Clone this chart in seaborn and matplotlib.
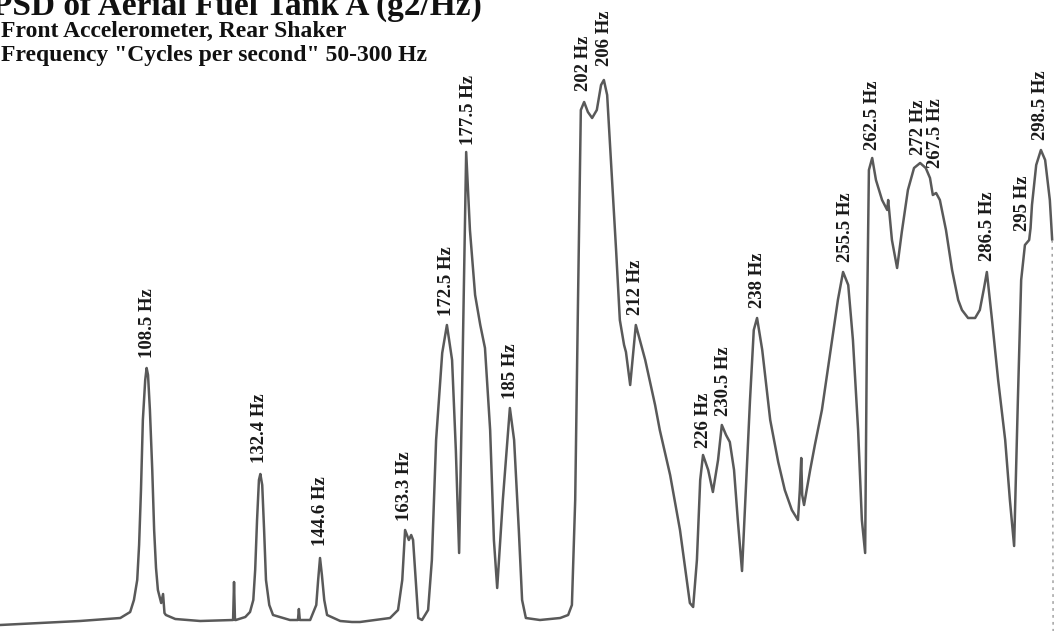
import numpy as np
import pandas as pd
import matplotlib
matplotlib.use('Agg')
import matplotlib.pyplot as plt
import seaborn as sns

freq = [77.2, 85.7, 94.2, 102.8, 104.9, 105.7, 106.4, 106.8, 107.2, 107.6,
        108.1, 108.4, 108.7, 109.1, 109.6, 110.0, 110.4, 110.8, 111.5, 111.9,
        112.2, 112.5, 114.5, 119.8, 126.2, 126.8, 127.0, 127.2, 127.4, 129.4,
        130.4, 131.1, 131.5, 131.9, 132.3, 132.6, 133.0, 133.4, 133.8, 134.5,
        135.3, 138.9, 140.6, 140.8, 141.0, 143.2, 144.5, 144.9, 145.3, 145.7,
        146.2, 146.8, 149.6, 152.1, 153.8, 157.0, 160.2, 161.9, 162.8, 163.4,
        163.8, 164.2, 164.7, 165.1, 166.2, 167.0, 168.3, 169.1, 170.0, 171.3,
        172.3, 173.4, 174.2, 174.9, 175.5, 176.4, 177.2, 178.3, 179.4, 180.4,
        181.5, 182.3, 183.0, 184.2, 185.7, 186.6, 187.6, 188.3, 189.1, 192.1,
        196.4, 198.1, 198.9, 199.6, 200.2, 200.8, 201.5, 202.3, 203.2, 204.2,
        205.1, 205.7, 206.4, 207.2, 208.3, 209.1, 210.0, 210.4, 211.3, 212.5,
        214.5, 216.6, 217.6, 219.8, 221.9, 223.2, 224.0, 224.7, 225.5, 226.2,
        226.8, 227.9, 228.9, 230.0, 230.8, 231.7, 232.5, 233.4, 234.2, 235.1,
        236.0, 236.8, 237.6, 238.3, 239.4, 241.1, 242.8, 244.2, 245.7, 247.0,
        247.4, 247.7, 247.9, 248.3, 249.6, 250.6, 252.1, 253.8, 255.5, 256.6,
        257.7, 258.7, 259.8, 260.6, 261.3, 261.7, 262.1, 262.8, 263.6, 264.9,
        266.0, 266.2, 266.5, 267.0, 268.1, 269.1, 270.4, 271.7, 273.0, 274.2,
        275.1, 275.7, 276.4, 277.2, 278.5, 279.8, 281.1, 281.9, 283.2, 284.7,
        285.7, 286.6, 287.2, 288.3, 289.6, 291.1, 292.1, 293.0, 293.8, 294.5,
        295.3, 296.2, 296.5, 296.8, 297.7, 298.7, 299.6, 300.6, 301.1]
psd = [6, 8, 10, 13, 19, 31, 51, 86, 141, 211,
       251, 263, 256, 221, 161, 101, 63, 41, 28, 37,
       18, 16, 12, 10, 11, 11, 49, 11, 11, 14,
       19, 31, 61, 111, 151, 157, 146, 101, 51, 26,
       16, 11, 11, 22, 11, 11, 26, 51, 73, 56,
       31, 16, 10, 9, 9, 11, 13, 21, 51, 101,
       96, 91, 96, 91, 13, 11, 21, 71, 191, 278,
       306, 271, 181, 78, 231, 479, 401, 336, 306, 283,
       201, 91, 43, 131, 223, 191, 101, 31, 13, 11,
       13, 16, 26, 131, 331, 521, 529, 519, 513, 521,
       546, 551, 536, 471, 381, 311, 286, 279, 246, 306,
       271, 226, 201, 156, 101, 56, 28, 24, 71, 151,
       176, 161, 139, 171, 206, 196, 189, 161, 111, 60,
       151, 231, 301, 313, 281, 211, 169, 141, 121, 111,
       141, 173, 136, 126, 161, 186, 221, 276, 331, 359,
       346, 291, 201, 111, 78, 311, 461, 473, 451, 431,
       421, 431, 416, 391, 363, 399, 441, 463, 468, 463,
       453, 436, 438, 431, 401, 361, 331, 321, 313, 313,
       321, 343, 359, 311, 251, 191, 131, 85, 231, 351,
       386, 391, 403, 426, 466, 481, 471, 431, 391]

# borda direita do registro (tracejado claro)
edge_freq = [301.1, 301.3]
edge_psd = [391, 0]

# rotulos dos picos: texto, posicao (Hz) e nivel
peak_text = ['108.5 Hz', '132.4 Hz', '144.6 Hz', '163.3 Hz', '172.5 Hz',
             '177.5 Hz', '185 Hz', '202 Hz', '206 Hz', '212 Hz', '226 Hz',
             '230.5 Hz', '238 Hz', '255.5 Hz', '262.5 Hz', '272 Hz',
             '267.5 Hz', '286.5 Hz', '295 Hz', '298.5 Hz']
peak_freq = [108.5, 132.5, 145.3, 163.3, 172.3, 177.0, 185.8, 201.3, 205.8,
             212.5, 226.8, 231.2, 238.3, 257.2, 262.8, 272.6, 276.2, 287.4,
             294.8, 298.7]
peak_level = [273, 168, 85, 110, 315, 486, 232, 540, 565, 316, 183, 215,
              323, 369, 481, 476, 463, 370, 400, 491]

df = pd.DataFrame({'Hz': freq, 'psd': psd})

sns.set_style('white')
plt.rcParams['font.family'] = ['Liberation Serif', 'DejaVu Serif']

fig = plt.figure(figsize=(10.55, 6.31), dpi=100)
ax = fig.add_axes([0, 0, 1, 1])
sns.lineplot(data=df, x='Hz', y='psd', ax=ax, color='#595959', lw=1.8,
             sort=False, estimator=None)
ax.plot(edge_freq, edge_psd, color='#9a9a9a', lw=1, ls=(0, (2, 3)))

for t, f, lv in zip(peak_text, peak_freq, peak_level):
    ax.text(f, lv, t, rotation=90, ha='center', va='bottom', fontsize=13.5,
            fontweight='bold', color='#1a1a1a')

ax.set_xlim(77.2, 301.7)
ax.set_ylim(0, 631)
ax.axis('off')

# titulo cortado no topo como na imagem original
fig.text(-0.008, 0.977, 'PSD of Aerial Fuel Tank A (g2/Hz)', fontsize=24,
         fontweight='bold', va='baseline', ha='left', color='#111111')
fig.text(0.001, 0.941, 'Front Accelerometer, Rear Shaker', fontsize=17,
         fontweight='bold', va='baseline', ha='left', color='#111111')
fig.text(0.001, 0.904, 'Frequency "Cycles per second" 50-300 Hz', fontsize=17,
         fontweight='bold', va='baseline', ha='left', color='#111111')

plt.savefig('out.png', dpi=100, facecolor='white')
